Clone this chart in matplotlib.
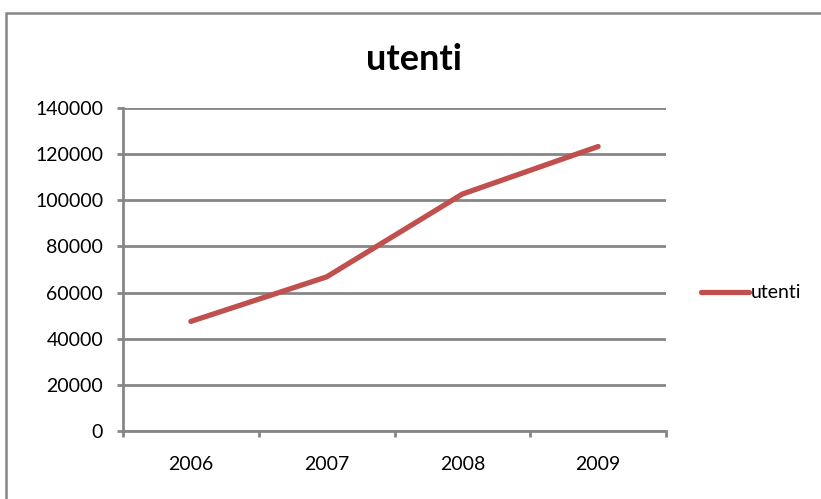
import matplotlib.pyplot as plt
from matplotlib.patches import Rectangle

# dati
anni = ['2006', '2007', '2008', '2009']
utenti = [47500, 66800, 102700, 123300]
yticks = [0, 20000, 40000, 60000, 80000, 100000, 120000, 140000]

grigio = '#868686'
rosso = '#C0504D'
plt.rcParams['font.family'] = ['Lato', 'DejaVu Sans']

fig = plt.figure(figsize=(8.21, 4.99), dpi=100)
ax = fig.add_axes([123/821, 1 - 431/499, (666 - 123)/821, (431 - 108)/499])

x = list(range(len(anni)))
ax.plot(x, utenti, color=rosso, lw=3.8, solid_capstyle='round',
        solid_joinstyle='miter', label='utenti')

ax.set_xlim(-0.5, len(anni) - 0.5)
ax.set_ylim(0, 140000)
ax.set_yticks(yticks)
ax.set_yticklabels([str(v) for v in yticks], fontsize=14)
ax.yaxis.grid(True, color=grigio, lw=2)
ax.set_axisbelow(True)

# tacche ai bordi delle categorie, etichette al centro
ax.set_xticks([i - 0.5 for i in range(len(anni) + 1)])
ax.set_xticklabels([])
ax.set_xticks(x, minor=True)
ax.set_xticklabels(anni, minor=True, fontsize=14)
ax.tick_params(axis='x', which='major', length=4.3, width=2, color=grigio, direction='out')
ax.tick_params(axis='x', which='minor', length=0, pad=18)
ax.tick_params(axis='y', length=4.3, width=2, color=grigio, pad=10)

for s in ['top', 'right']:
    ax.spines[s].set_visible(False)
for s in ['left', 'bottom']:
    ax.spines[s].set_color(grigio)
    ax.spines[s].set_linewidth(2)

fig.text(414/821, 1 - 60/499, 'utenti', ha='center', va='center',
         fontsize=26, fontweight='bold')

fig.legend(loc='center left', bbox_to_anchor=(683/821, 1 - 293/499),
           frameon=False, fontsize=14, handlelength=2.5, handletextpad=0.1)

# cornice del grafico
fig.patches.append(Rectangle((6/821, -0.1), 1.2, 1 - 13/499 + 0.1,
                             transform=fig.transFigure, fill=False,
                             edgecolor=grigio, lw=1.8))

fig.savefig('out.png', dpi=100)
